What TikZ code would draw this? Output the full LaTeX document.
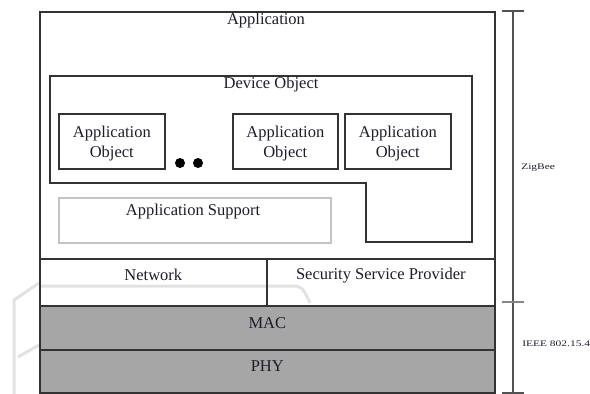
\documentclass[tikz,border=0pt]{standalone}
\usepackage{fontspec}
\setmainfont{Liberation Serif}
\definecolor{linec}{HTML}{333333}
\definecolor{txtc}{HTML}{1C1C2C}
\definecolor{greyf}{HTML}{A6A6A6}
\definecolor{faint}{HTML}{E2E2E2}
\definecolor{supc}{HTML}{C4C4C4}
\begin{document}
\begin{tikzpicture}[x=1pt,y=-1pt,
  box/.style={draw=linec, line width=1.6pt, rectangle, inner sep=0pt, anchor=north west},
  lbl/.style={font=\fontsize{16.5}{20}\selectfont, text=txtc, inner sep=0pt, align=center},
  small/.style={font=\fontsize{8.5}{10}\selectfont, text=txtc, inner sep=0pt, xscale=1.35, anchor=west},
  dot/.style={circle, fill=black, inner sep=0pt, minimum size=10pt},
  brk/.style={draw=linec!85, line width=1.5pt},
  art/.style={draw=faint, line width=3pt, line join=round}
]
\useasboundingbox (0,0) rectangle (590,394);
% faint background artefacts
\draw[art] (40,286) -- (290,286) .. controls (302,286) .. (310,303);
\draw[art] (39,283) -- (14,300) -- (14,394);
\draw[art] (39,345) -- (18,357);

% outer application box
\node[box, minimum width=455pt, minimum height=247pt] (app) at (39,11) {};
\node[lbl] (applbl) at (266,21) {Application};

% network row
\node[box, minimum width=227pt, minimum height=47pt] (net) at (39,258) {};
\node[box, minimum width=228pt, minimum height=47pt] (ssp) at (266,258) {};
\node[lbl] at ([yshift=7pt]net.center) {Network};
\node[lbl] at ([yshift=7pt]ssp.center) {Security Service Provider};

% MAC / PHY
\node[box, fill=greyf, minimum width=455pt, minimum height=44pt] (mac) at (39,305) {};
\node[box, fill=greyf, minimum width=455pt, minimum height=43pt] (phy) at (39,349) {};
\node[lbl] at ([yshift=5pt]mac.center) {MAC};
\node[lbl] at ([yshift=5pt]phy.center) {PHY};

% device object (L-shaped)
\draw[draw=linec, line width=1.6pt] (50,76) -- (472,76) -- (472,242) -- (366,242) -- (366,183) -- (50,183) -- cycle;
\node[lbl] (devlbl) at (271,85) {Device Object};

% application objects
\node[box, minimum width=106pt, minimum height=55pt] (ao1) at (58,113) {};
\node[box, minimum width=105pt, minimum height=55pt] (ao2) at (232,113) {};
\node[box, minimum width=106pt, minimum height=55pt] (ao3) at (344,113) {};
\node[lbl] at ([yshift=-2pt]ao1.center) {Application\\Object};
\node[lbl] at ([yshift=-2pt]ao2.center) {Application\\Object};
\node[lbl] at ([yshift=-2pt]ao3.center) {Application\\Object};
\node[dot] (d1) at (180,163) {};
\node[dot] (d2) at (198,163) {};

% application support
\node[box, draw=supc, minimum width=272pt, minimum height=45pt] (aps) at (58,197) {};
\node[lbl] at (193,212) {Application Support};

% bracket
\coordinate (btop) at (513,11);
\coordinate (bbot) at (513,393);
\coordinate (tl) at (502,11);  \coordinate (tr) at (524,11);
\coordinate (ml) at (502,302); \coordinate (mr) at (524,302);
\coordinate (bl) at (502,393); \coordinate (br) at (524,393);
\draw[brk] (btop) -- (bbot);
\draw[brk] (tl) -- (tr);
\draw[draw=linec!60, line width=2.5pt] (ml) -- (mr);
\draw[brk] (bl) -- (br);
\node[small] (zig) at (521,168) {ZigBee};
\node[small] (ieee) at (522,344) {IEEE 802.15.4};
\end{tikzpicture}
\end{document}
